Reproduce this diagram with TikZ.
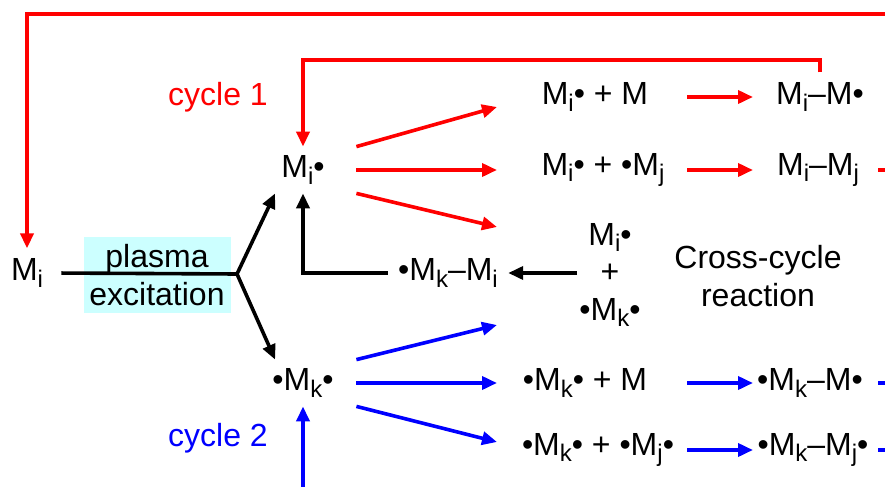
\documentclass[tikz,border=0pt]{standalone}
\usepackage{fontspec}
\setmainfont{Liberation Sans}
\usepackage{xcolor}
\usepackage{tikz}
\usetikzlibrary{arrows.meta,positioning,calc}
\definecolor{plasmabg}{RGB}{204,255,255}
\newcommand{\idx}[1]{\raisebox{-3.2pt}{\fontsize{12pt}{12pt}\selectfont #1}}
\tikzset{
  species/.style={align=center, inner sep=5pt, font=\fontsize{16pt}{18.75pt}\selectfont},
  radical/.style={species, minimum width=53pt, minimum height=23pt, inner sep=0pt},
  plasmabox/.style={species, fill=plasmabg, minimum width=73.5pt, minimum height=38pt, inner sep=0pt},
  line/.style={line width=1.8pt},
  flow/.style={line, -{Triangle[length=7.5pt, width=6.5pt]}}
}

\begin{document}
\begin{tikzpicture}[x=0.5pt, y=-0.5pt]
        \useasboundingbox (0,0) rectangle (885,487);
        \coordinate (redge) at (885,14);
        \coordinate (loop1) at (560,60);
        \coordinate (bedge) at (303,487);
        \coordinate (br) at (237,274);
        \coordinate (ax) at (687,0);
        \coordinate (bx) at (753,0);
        \coordinate (ex) at (878,0);
        \coordinate (rx) at (885,0);
        \coordinate (t1) at (497,107);
        \coordinate (t2) at (497,170);
        \coordinate (t3) at (497,227);
        \coordinate (t4) at (497,325);
        \coordinate (t5) at (497,383);
        \coordinate (t6) at (497,442);

        \node[species] (ml) at (27,273) {M\idx{i}};
        \node[plasmabox] (exc) at (157,275) {plasma\\excitation};
        \node[radical] (mir) at (303,170) {M\idx{i}•};
        \node[radical] (mk) at (303,383) {•M\idx{k}•};
        \node[species] (mkmi) at (448,273) {•M\idx{k}–M\idx{i}};
        \node[species, inner sep=1pt] (stack) at (610,275) {M\idx{i}•\\+\\•M\idx{k}•};
        \node[species] (cross) at (758,276) {Cross-cycle\\reaction};
        \node[species] (p1) at (595,97) {M\idx{i}• + M};
        \node[species] (q1) at (820,97) {M\idx{i}–M•};
        \node[species] (p2) at (603,170) {M\idx{i}• + •M\idx{j}};
        \node[species] (q2) at (818,170) {M\idx{i}–M\idx{j}};
        \node[species] (p3) at (585,383) {•M\idx{k}• + M};
        \node[species] (q3) at (810,383) {•M\idx{k}–M•};
        \node[species] (p4) at (598,450) {•M\idx{k}• + •M\idx{j}•};
        \node[species] (q4) at (813,450) {•M\idx{k}–M\idx{j}•};
        \node[species, red] (c1) at (218,97) {cycle 1};
        \node[species, blue] (c2) at (218,438) {cycle 2};

        \draw[line, shorten <=4pt] (ml.east) -- (br);
        \draw[flow] (br) -- (mir.220);
        \draw[flow] (br) -- (mk.140);
        \draw[flow] (mkmi.west) -| (mir.south);
        \draw[flow] (stack.west |- mkmi) -- (mkmi.east);

        \draw[flow, red] (redge) -| (ml.north);
        \draw[flow, red] (q1.north) |- (loop1) -| (mir.north);
        \draw[flow, red] (mir.north east) -- (t1);
        \draw[flow, red] (mir.east) -- (t2);
        \draw[flow, red] (mir.south east) -- (t3);
        \draw[flow, red] (ax |- p1) -- (bx |- p1);
        \draw[flow, red] (ax |- p2) -- (bx |- p2);
        \draw[line, red] (ex |- q2) -- (rx |- q2);

        \draw[flow, blue] (bedge) -- (mk.south);
        \draw[flow, blue] (mk.north east) -- (t4);
        \draw[flow, blue] (mk.east) -- (t5);
        \draw[flow, blue] (mk.south east) -- (t6);
        \draw[flow, blue] (ax |- p3) -- (bx |- p3);
        \draw[flow, blue] (ax |- p4) -- (bx |- p4);
        \draw[line, blue] (ex |- q3) -- (rx |- q3);
        \draw[line, blue] (ex |- q4) -- (rx |- q4);
\end{tikzpicture}
\end{document}
